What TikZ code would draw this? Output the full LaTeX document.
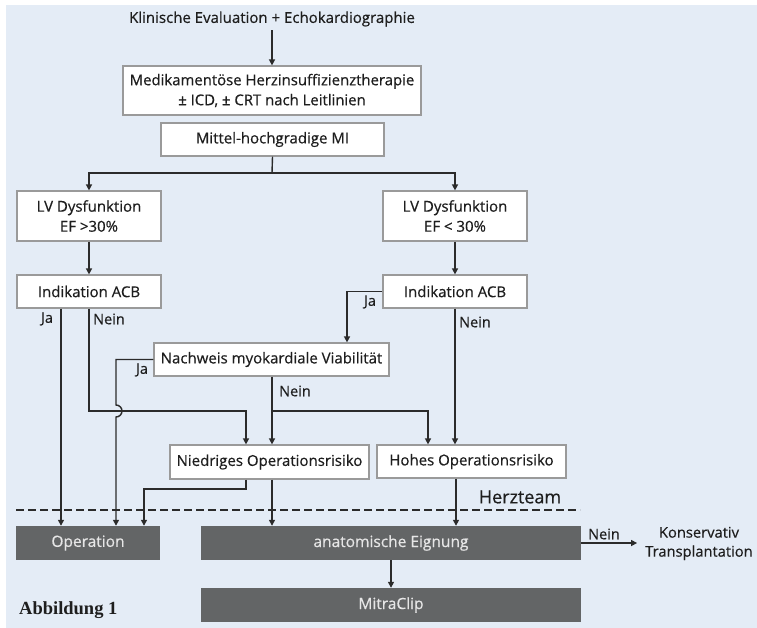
\documentclass[tikz,border=0pt]{standalone}
\usepackage{fontspec}
\setmainfont{Open Sans}[FakeBold=0.45]
\newfontfamily\abbfont{Liberation Serif}
\usetikzlibrary{arrows.meta}
\definecolor{bgblue}{HTML}{E4ECF6}
\definecolor{boxline}{HTML}{9A9A9A}
\definecolor{linecol}{HTML}{2B2B2B}
\definecolor{darkbox}{HTML}{636566}
\definecolor{txt}{HTML}{1E1E1E}
\definecolor{lighttxt}{HTML}{E6E6E6}
\begin{document}
\begin{tikzpicture}[x=1pt,y=-1pt,
  every node/.style={font=\fontsize{15}{20}\selectfont, text=txt},
  wbox/.style={draw=boxline, line width=1.2pt, fill=white, inner sep=0pt, align=center},
  dbox/.style={fill=darkbox, inner sep=0pt, align=center, text=lighttxt, font=\fontsize{15.5}{20}\selectfont},
  lbl/.style={font=\fontsize{14.5}{17}\selectfont, inner sep=0pt},
  conn/.style={draw=linecol, line width=1.4pt},
  arr/.style={conn, -{Triangle[length=6pt,width=6pt]}}]
\useasboundingbox (0,0) rectangle (757,628);
\fill[bgblue] (6,5) rectangle (757,628);

% nodes
\node (title) at (272,19) {Klinische Evaluation + Echokardiographie};
\node[wbox, minimum width=298pt, minimum height=49pt, font=\fontsize{14.9}{20}\selectfont] (med) at (272,90.5) {Medikamentöse Herzinsuffizienztherapie\\± ICD, ± CRT nach Leitlinien};
\node[wbox, minimum width=223pt, minimum height=33pt] (mi) at (272.5,139.5) {Mittel-hochgradige MI};
\node[wbox, minimum width=144pt, minimum height=50pt] (lvL) at (89,216) {LV Dysfunktion\\EF >30\%};
\node[wbox, minimum width=144pt, minimum height=50pt] (lvR) at (455,216) {LV Dysfunktion\\EF < 30\%};
\node[wbox, minimum width=144pt, minimum height=33pt] (acbL) at (89,291.5) {Indikation ACB};
\node[wbox, minimum width=144pt, minimum height=33pt] (acbR) at (455,291.5) {Indikation ACB};
\node[wbox, minimum width=235pt, minimum height=33pt] (nach) at (271.5,359.5) {Nachweis myokardiale Viabilität};
\node[wbox, minimum width=199pt, minimum height=34pt] (nied) at (269.5,462) {Niedriges Operationsrisiko};
\node[wbox, minimum width=189pt, minimum height=33pt] (hoh) at (471.5,461.5) {Hohes Operationsrisiko};
\node[dbox, minimum width=144pt, minimum height=34pt] (op) at (88,543) {Operation};
\node[dbox, minimum width=380pt, minimum height=34pt] (ana) at (391,543) {anatomische Eignung};
\node[dbox, minimum width=380pt, minimum height=34pt] (mc) at (391,605) {MitraClip};
\node[align=center, inner sep=0pt, font=\fontsize{14.7}{19}\selectfont] (kons) at (699,543.5) {Konservativ\\Transplantation};
\node[font=\fontsize{18}{21}\selectfont] (herz) at (520,497) {Herzteam};
\node[font=\abbfont\bfseries\fontsize{18.5}{21}\selectfont, anchor=west, inner sep=0pt] (abb) at (19,610) {Abbildung 1};

% helper coordinates
\coordinate (br) at (272,173);
\coordinate (hy) at (0,411);
\coordinate (xJa) at (61,0);
\coordinate (xNi) at (246,0);
\coordinate (xJ2) at (347,0);
\coordinate (xJ3) at (116,0);
\coordinate (hopTop) at (0,405);
\coordinate (xH) at (428,0);
\coordinate (xN2) at (272,0);
\coordinate (xO3) at (144,0);
\coordinate (yL) at (0,489);
\coordinate (xHo) at (456,0);

% connectors
\draw[arr] (title) -- (med);
\draw[conn] (mi.south) -- (br);
\draw[arr] (br) -| (lvL.north);
\draw[arr] (br) -| (lvR.north);
\draw[arr] (lvL) -- (acbL);
\draw[arr] (lvR) -- (acbR);
\draw[arr] (acbL.south -| xJa) -- (op.north -| xJa);
\draw[arr] (acbL.south) -- (acbL.south |- hy) -- (xNi |- hy) -- (nied.north -| xNi);
\draw[arr] (acbR.west) -| (nach.north -| xJ2);
\draw[arr] (acbR.south) -- (hoh.north -| acbR.south);
\draw[arr] (nach.west) -| (xJ3 |- hopTop) arc[start angle=90, end angle=-90, radius=6pt] -- (op.north -| xJ3);
\draw[arr] (nach.south -| xN2) -- (nied.north -| xN2);
\draw[arr] (xN2 |- hy) -| (hoh.north -| xH);
\draw[arr] (nied.south -| xNi) -- (xNi |- yL) -| (op.north -| xO3);
\draw[arr] (nied.south -| xN2) -- (ana.north -| xN2);
\draw[arr] (hoh.south -| xHo) -- (ana.north -| xHo);
\draw[arr] (ana) -- (mc);
\draw[arr, shorten >=8pt] (ana.east) -- (kons.west |- ana.east);
\draw[draw=linecol, line width=2.6pt, dash pattern=on 8pt off 4pt] (16,510) -- (580,510);

% labels
\node[lbl] (l1) at (47,319) {Ja};
\node[lbl] (l2) at (109,319) {Nein};
\node[lbl] (l3) at (370,302) {Ja};
\node[lbl] (l4) at (475,322) {Nein};
\node[lbl] (l5) at (142,370) {Ja};
\node[lbl] (l6) at (295,391) {Nein};
\node[lbl] (l7) at (604,534) {Nein};
\end{tikzpicture}
\end{document}
